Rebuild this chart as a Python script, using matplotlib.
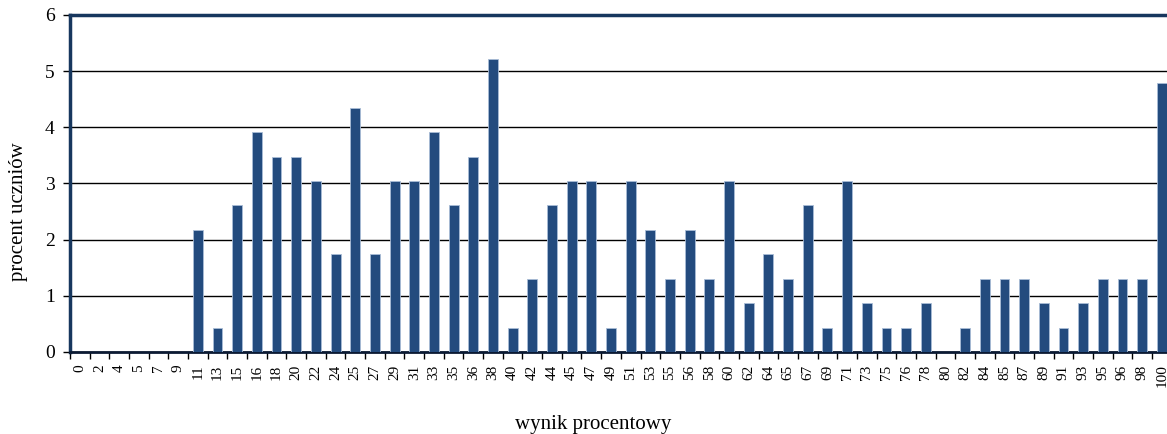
import matplotlib.pyplot as plt
import numpy as np
from matplotlib.ticker import FixedLocator

plt.rcParams['font.family'] = ['Liberation Serif', 'DejaVu Serif']

# wynik procentowy (kategorie) i procent uczniów
wyniki = ['0', '2', '4', '5', '7', '9', '11', '13', '15', '16', '18', '20', '22', '24',
          '25', '27', '29', '31', '33', '35', '36', '38', '40', '42', '44', '45', '47',
          '49', '51', '53', '55', '56', '58', '60', '62', '64', '65', '67', '69', '71',
          '73', '75', '76', '78', '80', '82', '84', '85', '87', '89', '91', '93', '95',
          '96', '98', '100']
procent = [0, 0, 0, 0, 0, 0, 2.17, 0.43, 2.61, 3.91, 3.48, 3.48, 3.04, 1.74,
           4.35, 1.74, 3.04, 3.04, 3.91, 2.61, 3.48, 5.22, 0.43, 1.30, 2.61, 3.04, 3.04,
           0.43, 3.04, 2.17, 1.30, 2.17, 1.30, 3.04, 0.87, 1.74, 1.30, 2.61, 0.43, 3.04,
           0.87, 0.43, 0.43, 0.87, 0, 0.43, 1.30, 1.30, 1.30, 0.87, 0.43, 0.87, 1.30,
           1.30, 1.30, 4.78]

fig = plt.figure(figsize=(11.67, 4.34), dpi=100)
ax = fig.add_axes([0.06, 0.189, 0.944, 0.7765])

x = np.arange(len(wyniki))
ax.bar(x, procent, width=0.5, color='#234b7e', edgecolor='#a9bcd6', linewidth=0.6, zorder=3)

ax.set_xlim(-0.5, len(wyniki) - 0.5)
ax.set_ylim(0, 6)
ax.set_yticks(range(7))
ax.yaxis.grid(True, color='black', linewidth=1, zorder=0)

ax.set_xticks(x)
ax.set_xticklabels(wyniki, rotation=90, fontsize=11)
ax.tick_params(axis='x', which='major', length=0, pad=9)
ax.xaxis.set_minor_locator(FixedLocator(np.arange(-0.5, len(wyniki), 1)))
ax.tick_params(axis='x', which='minor', length=5, width=1, color='black')
ax.tick_params(axis='y', labelsize=14, length=5, width=1, color='black', pad=6)

for side in ['left', 'top']:
    ax.spines[side].set_color('#17375e')
    ax.spines[side].set_linewidth(2.5)
ax.spines['bottom'].set_color('#0b1a33')
ax.spines['bottom'].set_linewidth(2)
ax.spines['right'].set_visible(False)

ax.set_ylabel('procent uczniów', fontsize=15)
ax.yaxis.set_label_coords(-0.038, 0.416)
fig.text(0.508, 0.012, 'wynik procentowy', ha='center', fontsize=15)

fig.savefig('out.png', dpi=100)
plt.close()
